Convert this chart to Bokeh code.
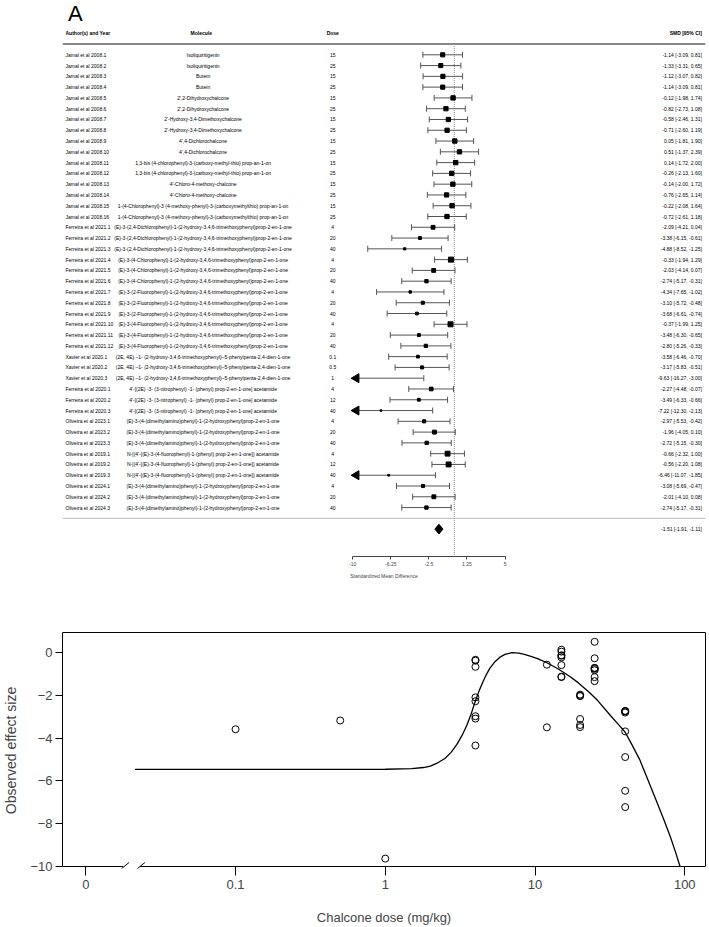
import math
from bokeh.plotting import figure
from bokeh.models import Range1d, FixedTicker, LinearAxis, LogAxis, Label
from bokeh.layouts import column
from bokeh.embed import file_html
from bokeh.resources import INLINE

# ---------------- data ----------------
authors = (
    ["Jamal et al 2008.%d" % i for i in range(1, 17)]
    + ["Ferreira et al 2021.%d" % i for i in range(1, 13)]
    + ["Xavier et al 2020.%d" % i for i in range(1, 4)]
    + ["Ferreira et al 2020.%d" % i for i in range(1, 4)]
    + ["Oliveira et al 2023.%d" % i for i in range(1, 4)]
    + ["Oliveira et al 2019.%d" % i for i in range(1, 4)]
    + ["Oliveira et al 2024.%d" % i for i in range(1, 4)]
)
m_iso = "Isoliquiritigenin"
m_but = "Butein"
m_dhc = "2',2-Dihydroxychalcone"
m_hdm = "2'-Hydroxy-3,4-Dimethoxychalcone"
m_dcc = "4',4-Dichlorochalcone"
m_bis = "1,3-bis (4-chlorophenyl)-3-(carboxy-methyl-thio) prop-an-1-on"
m_cmc = "4'-Chloro-4-methoxy-chalcone"
m_cmp = "1-(4-Chlorophenyl)-3 (4-methoxy-phenyl)-3-(carboxymethylthio) prop-an-1-on"
m_f1 = "(E)-3-(2,4-Dichlorophenyl)-1-(2-hydroxy-3,4,6-trimethoxyphenyl)prop-2-en-1-one"
m_f2 = "(E)-3-(4-Chlorophenyl)-1-(2-hydroxy-3,4,6-trimethoxyphenyl)prop-2-en-1-one"
m_f3 = "(E)-3-(2-Fluorophenyl)-1-(2-hydroxy-3,4,6-trimethoxyphenyl)prop-2-en-1-one"
m_f4 = "(E)-3-(4-Fluorophenyl)-1-(2-hydroxy-3,4,6-trimethoxyphenyl)prop-2-en-1-one"
m_xav = "(2E, 4E) \u20131- (2-hydroxy-3,4,6-trimethoxyphenyl)\u20135-phenylpenta-2,4-dien-1-one"
m_nit = "4'-[(2E) -3- (3-nitrophenyl) -1- (phenyl) prop-2-en-1-one] acetamide"
m_dma = "(E)-3-(4-(dimethylamino)phenyl)-1-(2-hydroxyphenyl)prop-2-en-1-one"
m_nfl = "N-[(4'-[(E)-3-(4-fluorophenyl)-1-(phenyl) prop-2-en-1-one]) acetamide"
molecules = ([m_iso] * 2 + [m_but] * 2 + [m_dhc] * 2 + [m_hdm] * 2 + [m_dcc] * 2
             + [m_bis] * 2 + [m_cmc] * 2 + [m_cmp] * 2 + [m_f1] * 3 + [m_f2] * 3
             + [m_f3] * 3 + [m_f4] * 3 + [m_xav] * 3 + [m_nit] * 3 + [m_dma] * 3
             + [m_nfl] * 3 + [m_dma] * 3)
doses = [15, 25, 15, 25, 15, 25, 15, 25, 15, 25, 15, 25, 15, 25, 15, 25,
         4, 20, 40, 4, 20, 40, 4, 20, 40, 4, 20, 40,
         0.1, 0.5, 1, 4, 12, 40, 4, 20, 40, 4, 12, 40, 4, 20, 40]
smd = [-1.14, -1.33, -1.12, -1.14, -0.12, -0.82, -0.58, -0.71, 0.05, 0.51, 0.14, -0.26,
       -0.14, -0.76, -0.22, -0.72,
       -2.09, -3.38, -4.88, -0.33, -2.03, -2.74, -4.34, -3.10, -3.68, -0.37, -3.48, -2.80,
       -3.58, -3.17, -9.63, -2.27, -3.49, -7.22, -2.97, -1.96, -2.72, -0.66, -0.56, -6.46,
       -3.08, -2.01, -2.74]
ci_low = [-3.09, -3.31, -3.07, -3.09, -1.98, -2.73, -2.46, -2.60, -1.81, -1.37, -1.72, -2.13,
          -2.00, -2.65, -2.08, -2.61,
          -4.21, -6.15, -8.52, -1.94, -4.14, -5.17, -7.65, -5.72, -6.61, -1.99, -6.30, -5.26,
          -6.46, -5.83, -16.27, -4.48, -6.33, -12.30, -5.53, -4.05, -5.15, -2.32, -2.20, -11.07,
          -5.69, -4.10, -5.17]
ci_high = [0.81, 0.65, 0.82, 0.81, 1.74, 1.08, 1.31, 1.19, 1.90, 2.39, 2.00, 1.60,
           1.72, 1.14, 1.64, 1.18,
           0.04, -0.61, -1.25, 1.29, 0.07, -0.31, -1.02, -0.48, -0.74, 1.25, -0.65, -0.33,
           -0.70, -0.51, -3.00, -0.07, -0.66, -2.13, -0.42, 0.10, -0.30, 1.00, 1.08, -1.85,
           -0.47, 0.08, -0.31]
pooled, pooled_low, pooled_high = -1.51, -1.91, -1.11
forest_ticks = [-10, -6.25, -2.5, 1.25, 5]
forest_lim = (-10, 5)

curve_dose = [0.0213, 0.1, 0.5, 1.0, 1.5, 1.8, 2.0, 2.2, 2.5, 2.75, 3.0, 3.25, 3.5, 3.75,
              4.0, 4.25, 4.5, 4.75, 5.0, 5.4, 5.8, 6.3, 7.0, 7.8, 8.5, 9.5, 10.5, 12.0,
              14.3, 17.0, 19.4, 23.0, 26.3, 32.0, 36.0, 40.0, 44.0, 50.0, 56.0, 64.0,
              72.0, 80.0, 87.0, 93.0]
curve_smd = [-5.46, -5.46, -5.46, -5.45, -5.42, -5.37, -5.30, -5.18, -4.95, -4.66, -4.30,
             -3.88, -3.40, -2.85, -2.25, -1.75, -1.35, -1.00, -0.72, -0.42, -0.22, -0.08,
             0.0, -0.02, -0.08, -0.18, -0.29, -0.47, -0.76, -1.10, -1.40, -1.85, -2.25,
             -2.95, -3.35, -3.72, -4.25, -5.00, -5.85, -6.85, -7.75, -8.60, -9.35, -10.0]
b_xticks = [0.01, 0.1, 1, 10, 100]
b_xtick_labels = ["0", "0.1", "1", "10", "100"]
b_yticks = [0, -2, -4, -6, -8, -10]

FONT = "Liberation Sans"

# ---------------- panel A : forest plot ----------------
K = len(smd)
ROW0_PX, ROW_H = 54.3, 10.78
ZERO_PX, UNIT_PX = 432.0, 11.2
A_H, A_FRAME_BOTTOM = 590, 556


def ay(px):
    return K - (px - ROW0_PX) / ROW_H


def ax(px):
    return (px - ZERO_PX) / UNIT_PX


rows = [K - i for i in range(K)]

pa = figure(width=709, height=A_H, x_range=Range1d(ax(0), ax(709)),
            y_range=Range1d(ay(A_FRAME_BOTTOM), ay(0)),
            x_axis_type=None, y_axis_type=None, output_backend="svg",
            toolbar_location=None, min_border_left=0, min_border_right=0,
            min_border_top=0, min_border_bottom=A_H - A_FRAME_BOTTOM)
pa.outline_line_color = None
pa.background_fill_color = "white"

xa = LinearAxis(ticker=FixedTicker(ticks=forest_ticks), bounds=forest_lim,
                axis_label="Standardized Mean Difference",
                major_label_overrides={float(t): f"{t:g}" for t in forest_ticks})
xa.axis_line_color = "#444"
xa.major_tick_line_color = "#444"
xa.major_tick_out = 3
xa.major_tick_in = 0
xa.minor_tick_line_color = None
xa.major_label_text_font_size = "5px"
xa.major_label_text_font = FONT
xa.major_label_standoff = 2
xa.axis_label_text_font_size = "5px"
xa.axis_label_text_font = FONT
xa.axis_label_text_font_style = "normal"
xa.axis_label_standoff = 4
pa.add_layout(xa, "below")

# header line, separator line, reference line
pa.segment(x0=[ax(0)], y0=[K + 1], x1=[ax(709)], y1=[K + 1], line_color="#888", line_width=2)
pa.segment(x0=[ax(0)], y0=[0], x1=[ax(709)], y1=[0], line_color="#bbb", line_width=1)
pa.segment(x0=[0], y0=[K + 1], x1=[0], y1=[ay(A_FRAME_BOTTOM)], line_color="#888",
           line_width=1, line_dash="1 1")

# confidence intervals
lo_draw = [max(l, forest_lim[0]) for l in ci_low]
pa.segment(x0=lo_draw, y0=rows, x1=ci_high, y1=rows, line_color="#555", line_width=1)
cap_x = [l for l in ci_low if l >= forest_lim[0]] + list(ci_high)
cap_y = [r for l, r in zip(ci_low, rows) if l >= forest_lim[0]] + rows
CAP = 0.28
pa.segment(x0=cap_x, y0=[y - CAP for y in cap_y], x1=cap_x, y1=[y + CAP for y in cap_y],
           line_color="#555", line_width=1)
arrow_y = [r for l, r in zip(ci_low, rows) if l < forest_lim[0]]
pa.scatter(x=[ax(324)] * len(arrow_y), y=arrow_y, marker="triangle", angle=math.pi / 2,
           size=9, color="black")

widths = [h - l for l, h in zip(ci_low, ci_high)]
wmin = min(widths)
sizes = [5.0 * wmin / w for w in widths]
pa.scatter(x=smd, y=rows, marker="square", size=sizes, color="black")

# summary diamond
pa.patch(x=[pooled_low, pooled, pooled_high, pooled], y=[-1, -1 + 0.45, -1, -1 - 0.45],
         color="black")

# text columns
TXT = dict(text_font_size="5px", text_baseline="middle", text_font={"value": FONT},
           text_color="black")
pa.text(x=[ax(3.3)] * K, y=rows, text=authors, text_align="left", **TXT)
pa.text(x=[ax(155)] * K, y=rows, text=molecules, text_align="center", **TXT)
pa.text(x=[ax(298)] * K, y=rows, text=[f"{d:g}" for d in doses], text_align="center", **TXT)
smd_txt = [f"{e:.2f} [{l:.2f}, {h:.2f}]" for e, l, h in zip(smd, ci_low, ci_high)]
pa.text(x=[ax(705)] * K, y=rows, text=smd_txt, text_align="right", **TXT)
pa.text(x=[ax(705)], y=[-1], text=[f"{pooled:.2f} [{pooled_low:.2f}, {pooled_high:.2f}]"],
        text_align="right", **TXT)

HDR = dict(TXT, text_font_style="bold")
pa.text(x=[ax(3.3)], y=[K + 2], text=["Author(s) and Year"], text_align="left", **HDR)
pa.text(x=[ax(153)], y=[K + 2], text=["Molecule"], text_align="center", **HDR)
pa.text(x=[ax(298)], y=[K + 2], text=["Dose"], text_align="center", **HDR)
pa.text(x=[ax(705)], y=[K + 2], text=["SMD [95% CI]"], text_align="right", **HDR)

pa.text(x=[ax(6)], y=[ay(0)], text=["A"], text_align="left", text_baseline="top",
        text_font_size="22px", text_font={"value": FONT}, text_color="black")

# ---------------- panel B : dose-response ----------------
B_TOP = A_H
B_H = 927 - A_H
DEC_PX, ONE_PX = 150.9, 382.3
Y0_PX, YU_PX = 652.3, 21.47
F_LEFT, F_RIGHT, F_TOP, F_BOTTOM = 57, 705, 632, 869


def bx(px):
    return 10 ** ((px - ONE_PX) / DEC_PX)


def by(px):
    return (Y0_PX - px) / YU_PX


pb = figure(width=709, height=B_H, x_axis_type="log",
            x_range=Range1d(bx(F_LEFT), bx(F_RIGHT)), y_range=Range1d(by(F_BOTTOM), by(F_TOP)),
            output_backend="svg", toolbar_location=None,
            min_border_left=F_LEFT, min_border_right=709 - F_RIGHT,
            min_border_top=F_TOP - B_TOP, min_border_bottom=927 - F_BOTTOM)
pb.outline_line_color = None
pb.grid.visible = False
pb.background_fill_color = "white"

xb = pb.xaxis[0]
xb.ticker = FixedTicker(ticks=b_xticks)
xb.major_label_overrides = {float(t): s for t, s in zip(b_xticks, b_xtick_labels)}
xb.axis_line_color = None
xb.major_tick_in = 2
xb.major_tick_out = 7
xb.minor_tick_line_color = None
xb.major_tick_line_color = "black"
xb.major_label_text_font_size = "13px"
xb.major_label_text_font = FONT
xb.major_label_standoff = 4
xb.axis_label = "Chalcone dose (mg/kg)"
xb.axis_label_text_font_size = "13px"
xb.axis_label_text_font = FONT
xb.axis_label_text_font_style = "normal"
xb.axis_label_standoff = 18

yb = pb.yaxis[0]
yb.ticker = FixedTicker(ticks=b_yticks)
yb.bounds = (-10, by(F_TOP))
yb.axis_line_color = "black"
yb.major_tick_in = 0
yb.major_tick_out = 7
yb.minor_tick_line_color = None
yb.major_tick_line_color = "black"
yb.major_label_text_font_size = "13px"
yb.major_label_text_font = FONT
yb.major_label_standoff = 3
yb.axis_label = "Observed effect size"
yb.axis_label_text_font_size = "14px"
yb.axis_label_text_font = FONT
yb.axis_label_text_font_style = "normal"
yb.axis_label_standoff = 8

right_ax = LinearAxis(ticker=FixedTicker(ticks=[]), bounds=(-10, by(F_TOP)),
                      major_tick_out=0, major_label_standoff=0,
                      major_label_text_font_size="0px", axis_line_color="black")
pb.add_layout(right_ax, "right")
top_ax = LogAxis(ticker=FixedTicker(ticks=[]), major_tick_out=0, major_label_standoff=0,
                 major_label_text_font_size="0px", axis_line_color="black")
pb.add_layout(top_ax, "above")

# broken bottom axis line
pb.segment(x0=[bx(F_LEFT), bx(135)], y0=[-10, -10], x1=[bx(118), bx(F_RIGHT)], y1=[-10, -10],
           line_color="black", line_width=1)
pb.segment(x0=[bx(113), bx(129)], y0=[by(872), by(872)], x1=[bx(124), bx(140)],
           y1=[by(863), by(863)], line_color="black", line_width=1)

pb.line(curve_dose, curve_smd, line_color="black", line_width=1.3)
pb.scatter(doses, smd, marker="circle", size=7, fill_color=None, line_color="black",
           line_width=1)

pb.add_layout(Label(x=bx(11), y=by(597), text="B", text_font_size="22px",
                    text_baseline="top", text_align="left", text_font=FONT,
                    text_color="black"))

layout = column(pa, pb, spacing=0)
open("out.html", "w").write(file_html(layout, INLINE))
